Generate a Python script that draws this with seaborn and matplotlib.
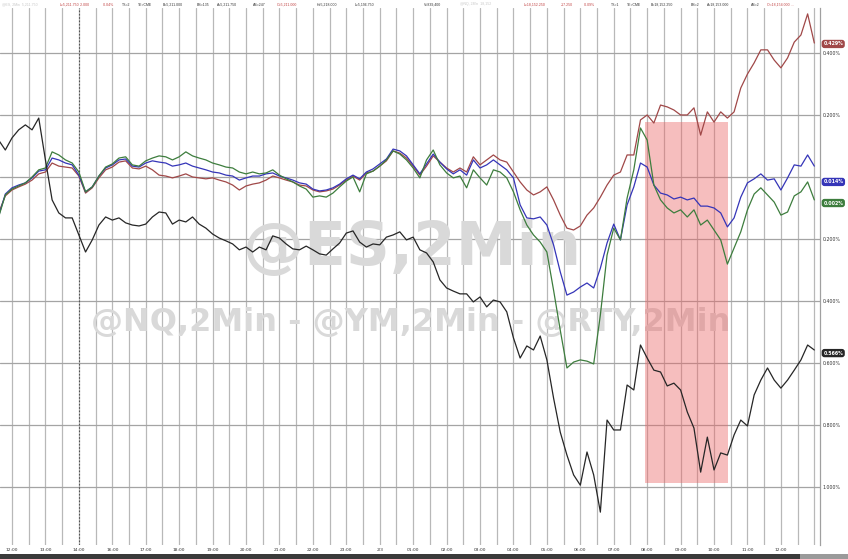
import numpy as np
import pandas as pd
import matplotlib
matplotlib.use("Agg")
import matplotlib.pyplot as plt
import matplotlib.transforms as mtransforms
from matplotlib.patches import Rectangle
import seaborn as sns

# ---------------- data (percent change, 2-min session chart, sampled every 0.2 h) ----------------
hours = np.round(np.arange(123) * 0.2 - 0.4, 2)   # chart hours after 12:00 (session gap removed)

ym_red = [-0.116, -0.061, -0.042, -0.032, -0.023, -0.010, 0.010, 0.016, 0.045, 0.035,
          0.032, 0.029, 0.003, -0.052, -0.035, -0.003, 0.023, 0.032, 0.048, 0.052,
          0.029, 0.026, 0.035, 0.023, 0.006, 0.003, -0.003, 0.003, 0.010, 0.000,
          -0.003, -0.006, -0.003, -0.010, -0.016, -0.026, -0.042, -0.029, -0.023, -0.019,
          -0.010, 0.003, -0.003, -0.010, -0.016, -0.026, -0.029, -0.042, -0.048, -0.045,
          -0.039, -0.026, -0.010, 0.003, -0.010, 0.013, 0.019, 0.035, 0.052, 0.084,
          0.077, 0.061, 0.035, 0.006, 0.035, 0.068, 0.048, 0.029, 0.016, 0.029,
          0.016, 0.065, 0.039, 0.055, 0.071, 0.055, 0.048, 0.016, -0.016, -0.042,
          -0.058, -0.048, -0.032, -0.074, -0.123, -0.165, -0.171, -0.158, -0.123, -0.100,
          -0.065, -0.026, 0.006, 0.016, 0.071, 0.071, 0.184, 0.200, 0.174, 0.232,
          0.226, 0.216, 0.200, 0.200, 0.223, 0.135, 0.210, 0.177, 0.210, 0.190,
          0.210, 0.287, 0.332, 0.368, 0.410, 0.410, 0.377, 0.352, 0.384, 0.435,
          0.458, 0.526, 0.432]

es_blue = [-0.126, -0.055, -0.035, -0.026, -0.019, -0.003, 0.019, 0.023, 0.061, 0.055,
           0.045, 0.039, 0.006, -0.048, -0.032, 0.003, 0.029, 0.039, 0.055, 0.058,
           0.035, 0.032, 0.045, 0.052, 0.048, 0.045, 0.035, 0.039, 0.045, 0.035,
           0.029, 0.023, 0.016, 0.013, 0.006, 0.003, -0.010, -0.003, 0.003, 0.003,
           0.010, 0.013, 0.003, -0.003, -0.010, -0.019, -0.023, -0.039, -0.045, -0.042,
           -0.035, -0.023, -0.006, 0.006, -0.006, 0.016, 0.026, 0.042, 0.058, 0.090,
           0.084, 0.068, 0.039, 0.010, 0.042, 0.074, 0.048, 0.026, 0.010, 0.023,
           0.006, 0.055, 0.029, 0.039, 0.055, 0.039, 0.023, -0.003, -0.090, -0.132,
           -0.135, -0.129, -0.155, -0.219, -0.306, -0.381, -0.371, -0.355, -0.342, -0.358,
           -0.294, -0.213, -0.152, -0.203, -0.090, -0.032, 0.045, 0.032, -0.026, -0.052,
           -0.058, -0.071, -0.065, -0.074, -0.068, -0.094, -0.094, -0.100, -0.116, -0.161,
           -0.132, -0.065, -0.019, -0.006, 0.010, -0.010, -0.006, -0.042, -0.003, 0.039,
           0.035, 0.071, 0.035]

nq_green = [-0.129, -0.058, -0.039, -0.029, -0.019, 0.000, 0.023, 0.029, 0.081, 0.071,
            0.055, 0.045, 0.016, -0.048, -0.032, 0.003, 0.032, 0.042, 0.061, 0.065,
            0.039, 0.035, 0.052, 0.061, 0.068, 0.065, 0.055, 0.065, 0.081, 0.068,
            0.061, 0.055, 0.045, 0.039, 0.032, 0.029, 0.016, 0.010, 0.016, 0.010,
            0.013, 0.023, 0.006, -0.006, -0.016, -0.029, -0.039, -0.065, -0.061, -0.065,
            -0.052, -0.032, -0.013, 0.000, -0.048, 0.010, 0.019, 0.035, 0.055, 0.084,
            0.074, 0.055, 0.029, -0.003, 0.055, 0.087, 0.039, 0.013, -0.003, 0.003,
            -0.035, 0.023, -0.003, -0.026, 0.023, 0.016, -0.003, -0.048, -0.106, -0.155,
            -0.187, -0.210, -0.242, -0.365, -0.494, -0.616, -0.597, -0.590, -0.594, -0.603,
            -0.445, -0.252, -0.165, -0.203, -0.068, 0.023, 0.158, 0.119, -0.026, -0.074,
            -0.100, -0.116, -0.106, -0.129, -0.106, -0.155, -0.139, -0.171, -0.203, -0.281,
            -0.229, -0.177, -0.106, -0.055, -0.035, -0.058, -0.081, -0.123, -0.113, -0.061,
            -0.048, -0.016, -0.074]

rty_black = [0.119, 0.087, 0.126, 0.152, 0.168, 0.152, 0.190, 0.055, -0.074, -0.116,
             -0.132, -0.132, -0.187, -0.242, -0.203, -0.155, -0.129, -0.139, -0.132, -0.148,
             -0.155, -0.158, -0.152, -0.129, -0.113, -0.116, -0.152, -0.139, -0.145, -0.129,
             -0.152, -0.165, -0.184, -0.197, -0.206, -0.216, -0.235, -0.226, -0.242, -0.226,
             -0.235, -0.190, -0.197, -0.216, -0.232, -0.235, -0.223, -0.235, -0.248, -0.252,
             -0.232, -0.213, -0.181, -0.174, -0.210, -0.226, -0.216, -0.219, -0.194, -0.187,
             -0.177, -0.203, -0.194, -0.235, -0.245, -0.274, -0.332, -0.358, -0.368, -0.377,
             -0.377, -0.403, -0.387, -0.419, -0.397, -0.403, -0.435, -0.519, -0.584, -0.545,
             -0.558, -0.513, -0.590, -0.713, -0.823, -0.897, -0.961, -0.994, -0.887, -0.961,
             -1.081, -0.784, -0.816, -0.816, -0.671, -0.687, -0.542, -0.584, -0.623, -0.629,
             -0.674, -0.665, -0.687, -0.758, -0.810, -0.952, -0.839, -0.945, -0.890, -0.897,
             -0.832, -0.784, -0.803, -0.703, -0.655, -0.616, -0.655, -0.681, -0.655, -0.623,
             -0.590, -0.542, -0.558]

series_names = ["@YM", "@ES", "@NQ", "@RTY"]
series_colors = ["#a04848", "#3535b8", "#3d7d3d", "#262626"]

x_tick_labels = ["12:00", "13:00", "14:00", "16:00", "17:00", "18:00", "19:00", "20:00",
                 "21:00", "22:00", "23:00", "2/3", "01:00", "02:00", "03:00", "04:00",
                 "05:00", "06:00", "07:00", "08:00", "09:00", "10:00", "11:00", "12:00"]
y_ticks = [0.4, 0.2, 0.0, -0.2, -0.4, -0.6, -0.8, -1.0]
y_tick_labels = ["0.400%", "0.200%", "", "0.200%", "0.400%", "0.600%", "0.800%", "1.000%"]

last_labels = ["0.429%", "0.014%", "0.002%", "0.566%"]
last_label_y = [0.429, -0.016, -0.084, -0.568]

# ---------------- figure ----------------
sns.set_style("white")
plt.rcParams["font.family"] = ["DejaVu Sans"]

fig = plt.figure(figsize=(8.48, 5.59), dpi=100)
ax = fig.add_axes([0.0, 14 / 559, 820 / 848, (545 - 8) / 559])

df = pd.DataFrame({
    "hour": np.concatenate([hours] * 4),
    "pct": np.concatenate([ym_red, es_blue, nq_green, rty_black]),
    "symbol": np.repeat(series_names, len(hours)),
})

ax.set_xlim(-0.359, 24.17)
ax.set_ylim(-1.187, 0.545)

# grid
for xv in np.arange(-0.0, 24.2, 0.5):
    ax.axvline(xv, color="#b8b8b8", lw=0.9, zorder=0)
for yv in y_ticks:
    ax.axhline(yv, color="#a4a4a4", lw=0.9, zorder=0)
ax.axvline(2.0, color="#555555", lw=0.8, ls=(0, (1.5, 1.5)), zorder=0.5)

# watermark
ax.text(0.503, 0.553, "@ES,2Min", transform=ax.transAxes, ha="center", va="center",
        fontsize=44, fontweight="bold", color="#d9d9d9", zorder=0.6)
ax.text(0.501, 0.415, "@NQ,2Min - @YM,2Min - @RTY,2Min", transform=ax.transAxes,
        ha="center", va="center", fontsize=23, fontweight="bold", color="#d9d9d9", zorder=0.6)

# highlighted window
ax.add_patch(Rectangle((18.94, -0.987), 2.48, 1.164, facecolor="#eb6464", alpha=0.42,
                       edgecolor="none", zorder=0.7))

sns.lineplot(data=df, x="hour", y="pct", hue="symbol", hue_order=series_names,
             palette=series_colors, estimator=None, sort=False, lw=0.9, legend=False,
             ax=ax, zorder=2)

# axes styling
for s in ["left", "top", "bottom"]:
    ax.spines[s].set_visible(False)
ax.spines["right"].set_color("#a0a0a0")
ax.spines["right"].set_linewidth(0.9)

ax.set_xticks(range(24))
ax.set_xticklabels(x_tick_labels, fontsize=3.2, color="#333333")
ax.tick_params(axis="x", length=0, pad=2)
ax.yaxis.tick_right()
ax.set_yticks(y_ticks)
ax.set_yticklabels(y_tick_labels, fontsize=3.4, color="#333333")
ax.tick_params(axis="y", length=0, pad=2)
ax.set_xlabel("")
ax.set_ylabel("")

# last-value boxes on the price axis
trans = mtransforms.blended_transform_factory(ax.transAxes, ax.transData)
for lab, yv, col in zip(last_labels, last_label_y, series_colors):
    ax.text(1.004, yv, lab, transform=trans, ha="left", va="center", fontsize=3.4,
            color="white", fontweight="bold", clip_on=False,
            bbox=dict(boxstyle="round,pad=0.35,rounding_size=0.6", fc=col, ec="none"))

# header quote line
header = [
    (2, "@ES, 2Min  5,211.750", "#c8c8c8"),
    (60, "L=5,211.750", "#c04040"), (80, "-2.000", "#c04040"), (103, "-0.04%", "#c04040"),
    (122, "TS=2", "#333333"), (138, "TE=CME", "#333333"), (163, "B=5,211.000", "#333333"),
    (197, "BS=135", "#333333"), (217, "A=5,211.750", "#333333"), (253, "AS=247", "#333333"),
    (277, "O=5,211.000", "#c04040"), (317, "H=5,218.000", "#333333"),
    (355, "L=5,196.750", "#333333"), (424, "V=839,400", "#333333"),
    (460, "@NQ, 2Min  18,152", "#c8c8c8"),
    (524, "L=18,152.250", "#c04040"), (561, "-17.250", "#c04040"), (584, "-0.09%", "#c04040"),
    (611, "TS=1", "#333333"), (627, "TE=CME", "#333333"), (651, "B=18,152.250", "#333333"),
    (691, "BS=2", "#333333"), (707, "A=18,153.000", "#333333"), (751, "AS=2", "#333333"),
    (767, "O=18,154.000 ...", "#c04040"),
]
for px, txt, col in header:
    fig.text(px / 848, 1 - 4.5 / 559, txt, ha="left", va="center", fontsize=2.5,
             color=col, family=["Liberation Sans", "DejaVu Sans"])

# bottom status bar
fig.patches.append(Rectangle((0, 0), 1, 5 / 559, transform=fig.transFigure,
                             facecolor="#3a3a3a", edgecolor="none"))
fig.patches.append(Rectangle((800 / 848, 0), 48 / 848, 5 / 559, transform=fig.transFigure,
                             facecolor="#9a9a9a", edgecolor="none"))

fig.savefig("out.png", dpi=100)
